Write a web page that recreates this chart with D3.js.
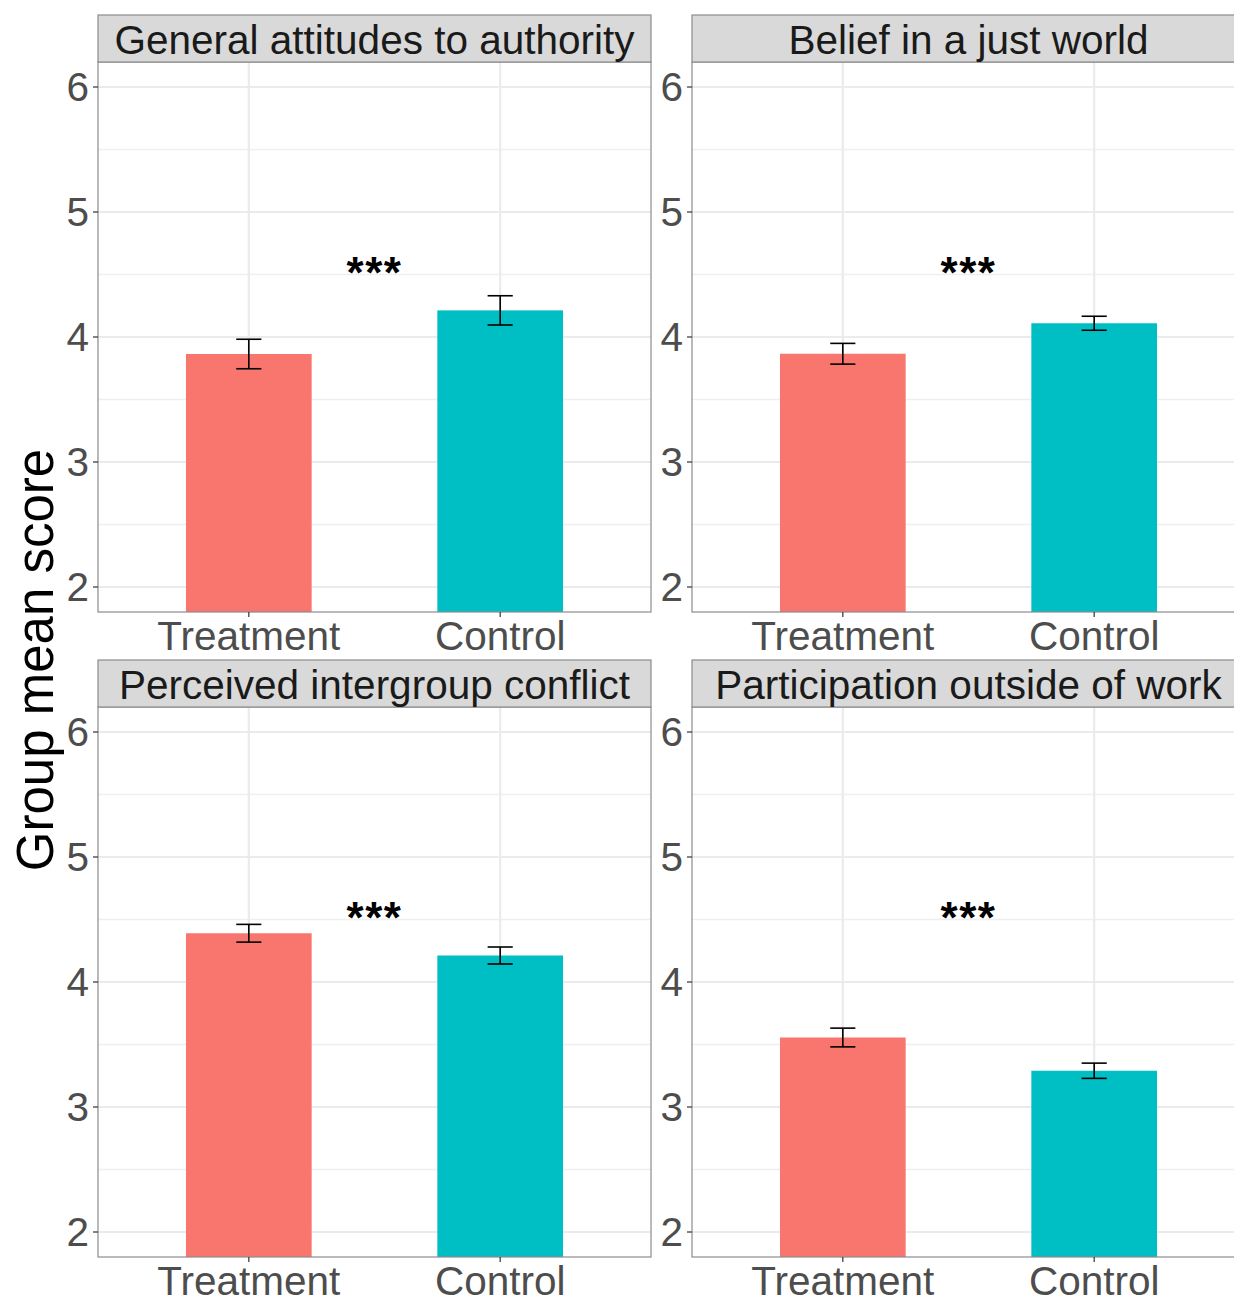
<!DOCTYPE html>
<html><head><meta charset="utf-8">
<script src="https://cdn.jsdelivr.net/npm/d3@7"></script>
<style>body{margin:0;background:#fff}svg{display:block}text{font-family:"Liberation Sans",Arial,sans-serif}</style>
</head><body><svg id="c" width="1234" height="1299"></svg>
<script>
const panels = ["General attitudes to authority","Belief in a just world","Perceived intergroup conflict","Participation outside of work"];
const groups = ["Treatment","Control"];
const treatmentMean = [3.864, 3.866, 4.390, 3.556];
const treatmentErr  = [0.118, 0.083, 0.071, 0.075];
const controlMean   = [4.213, 4.110, 4.212, 3.290];
const controlErr    = [0.117, 0.056, 0.068, 0.061];
const sigLabels = ["***","***","***","***"];
const yTicks = [2,3,4,5,6];
const yMinor = [2.5,3.5,4.5,5.5];
const colors = ["#F8766D","#00BFC4"];

const svg = d3.select("#c");
const pw = 553, ph = 550, stripH = 47;
const lefts = [98, 692], tops = [62, 707];
const fs = 40.5;

panels.forEach((name, i) => {
  const px = lefts[i % 2], py = tops[Math.floor(i / 2)];
  const g = svg.append("g").attr("transform", `translate(${px},${py})`);
  const x = d3.scaleLinear().domain([0.4, 2.6]).range([0, pw]);
  const y = d3.scaleLinear().domain([1.8, 6.2]).range([ph, 0]);
  const cid = "clip" + i;
  g.append("clipPath").attr("id", cid).append("rect").attr("width", pw).attr("height", ph);
  const inner = g.append("g").attr("clip-path", `url(#${cid})`);
  // grid
  inner.selectAll(".mn").data(yMinor).join("line").attr("x1",0).attr("x2",pw)
    .attr("y1",d=>y(d)).attr("y2",d=>y(d)).attr("stroke","#EFEFEF").attr("stroke-width",1.3);
  inner.selectAll(".mj").data(yTicks).join("line").attr("x1",0).attr("x2",pw)
    .attr("y1",d=>y(d)).attr("y2",d=>y(d)).attr("stroke","#EBEBEB").attr("stroke-width",2.2);
  inner.selectAll(".vx").data(groups).join("line").attr("y1",0).attr("y2",ph)
    .attr("x1",(d,k)=>x(k+1)).attr("x2",(d,k)=>x(k+1)).attr("stroke","#EBEBEB").attr("stroke-width",2.2);
  const data = [
    {m: treatmentMean[i], e: treatmentErr[i], c: colors[0]},
    {m: controlMean[i], e: controlErr[i], c: colors[1]}
  ];
  inner.selectAll(".bar").data(data).join("rect")
    .attr("x",(d,k)=>x(k+1-0.25)).attr("width",x(1.5)-x(1))
    .attr("y",d=>y(d.m)).attr("height",d=>y(0)-y(d.m)).attr("fill",d=>d.c);
  const eb = inner.selectAll(".eb").data(data).join("g").attr("stroke","#000").attr("stroke-width",1.6);
  eb.append("line").attr("x1",(d,k)=>x(k+1)).attr("x2",(d,k)=>x(k+1)).attr("y1",d=>y(d.m+d.e)).attr("y2",d=>y(d.m-d.e));
  eb.append("line").attr("x1",(d,k)=>x(k+1-0.05)).attr("x2",(d,k)=>x(k+1+0.05)).attr("y1",d=>y(d.m+d.e)).attr("y2",d=>y(d.m+d.e));
  eb.append("line").attr("x1",(d,k)=>x(k+1-0.05)).attr("x2",(d,k)=>x(k+1+0.05)).attr("y1",d=>y(d.m-d.e)).attr("y2",d=>y(d.m-d.e));
  inner.append("text").attr("x",x(1.5)).attr("y",y(4.6)+26).attr("text-anchor","middle")
    .attr("font-size",44).attr("font-weight","bold").attr("letter-spacing",1.5).attr("fill","#000").text(sigLabels[i]);
  // border
  g.append("rect").attr("width",pw).attr("height",ph).attr("fill","none").attr("stroke","#8C8C8C").attr("stroke-width",1.2);
  // strip
  g.append("rect").attr("y",-stripH).attr("width",pw).attr("height",stripH).attr("fill","#D9D9D9").attr("stroke","#8C8C8C").attr("stroke-width",1.2);
  g.append("text").attr("x",pw/2).attr("y",-8).attr("text-anchor","middle").attr("font-size",fs).attr("fill","#1A1A1A").text(name);
  // y axis
  const ya = g.append("g");
  ya.selectAll("line").data(yTicks).join("line").attr("x1",-5).attr("x2",0).attr("y1",d=>y(d)).attr("y2",d=>y(d)).attr("stroke","#333").attr("stroke-width",1.2);
  ya.selectAll("text").data(yTicks).join("text").attr("x",-9).attr("y",d=>y(d)+14).attr("text-anchor","end")
    .attr("font-size",fs).attr("fill","#4D4D4D").text(d=>d);
  // x axis
  const xa = g.append("g");
  xa.selectAll("line").data(groups).join("line").attr("x1",(d,k)=>x(k+1)).attr("x2",(d,k)=>x(k+1)).attr("y1",ph).attr("y2",ph+5).attr("stroke","#333").attr("stroke-width",1.2);
  xa.selectAll("text").data(groups).join("text").attr("x",(d,k)=>x(k+1)).attr("y",ph+38).attr("text-anchor","middle")
    .attr("font-size",fs).attr("fill","#4D4D4D").text(d=>d);
});
svg.append("text").attr("transform","translate(53,660) rotate(-90)").attr("text-anchor","middle")
  .attr("font-size",51).attr("fill","#000").text("Group mean score");
</script></body></html>
